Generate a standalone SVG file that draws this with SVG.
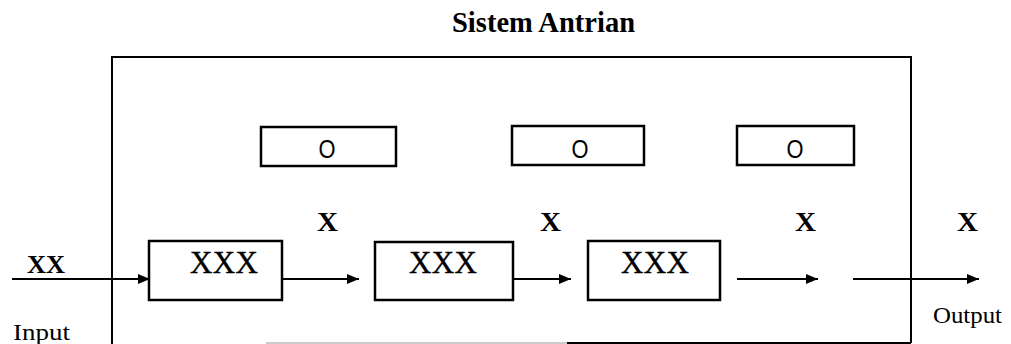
<svg xmlns="http://www.w3.org/2000/svg" width="1011" height="344" viewBox="0 0 1011 344">
  <defs>
    <marker id="arrow" markerUnits="userSpaceOnUse" markerWidth="14" markerHeight="12" refX="12" refY="6" orient="auto">
      <path d="M0,1 L12,6 L0,11 Z" fill="#000"/>
    </marker>
    <style>
      .frame { fill: none; stroke: #000; stroke-width: 2; }
      .box { fill: #fff; stroke: #000; stroke-width: 2.5; }
      .flow { stroke: #000; stroke-width: 2; fill: none; }
      .arrow { marker-end: url(#arrow); }
      .title { font-family: "Liberation Serif", "Times New Roman", serif; font-weight: bold; font-size: 30px; fill: #000; }
      .serif { font-family: "Liberation Serif", "Times New Roman", serif; fill: #000; }
      .item { font-family: "Liberation Serif", "Times New Roman", serif; font-size: 31px; fill: #000; stroke: #000; stroke-width: 0.4; }
      .item-bold { font-family: "Liberation Serif", "Times New Roman", serif; font-size: 28px; font-weight: bold; fill: #000; }
      .server { font-family: "Liberation Sans", Arial, sans-serif; font-size: 25px; fill: #000; text-anchor: middle; }
    </style>
  </defs>

  <rect width="1011" height="344" fill="#fff"/>

  <!-- title -->
  <text class="title" x="452" y="32" textLength="183" lengthAdjust="spacingAndGlyphs">Sistem Antrian</text>

  <!-- system boundary -->
  <g id="system">
    <path class="frame" d="M112,344 L112,57 L911,57 L911,343"/>
    <line x1="266" y1="343" x2="567" y2="343" stroke="#bbb" stroke-width="1.5"/>
    <line x1="567" y1="343" x2="911" y2="343" stroke="#000" stroke-width="2"/>
  </g>

  <!-- servers -->
  <g id="server1">
    <rect class="box" x="261" y="127" width="135" height="39"/>
    <text class="server" x="327" y="158" textLength="17" lengthAdjust="spacingAndGlyphs">O</text>
  </g>
  <g id="server2">
    <rect class="box" x="512" y="126" width="132" height="39"/>
    <text class="server" x="580" y="158" textLength="17" lengthAdjust="spacingAndGlyphs">O</text>
  </g>
  <g id="server3">
    <rect class="box" x="737" y="126" width="117" height="39"/>
    <text class="server" x="795" y="158" textLength="17" lengthAdjust="spacingAndGlyphs">O</text>
  </g>

  <!-- queues -->
  <g id="queue1">
    <rect class="box" x="149" y="241" width="133" height="59"/>
    <text class="item" x="190" y="273" textLength="68" lengthAdjust="spacing">XXX</text>
  </g>
  <g id="queue2">
    <rect class="box" x="375" y="242" width="138" height="58"/>
    <text class="item" x="409" y="273" textLength="68" lengthAdjust="spacing">XXX</text>
  </g>
  <g id="queue3">
    <rect class="box" x="588" y="241" width="132" height="59"/>
    <text class="item" x="621" y="273" textLength="68" lengthAdjust="spacing">XXX</text>
  </g>

  <!-- flow connectors -->
  <g id="connectors">
    <line class="flow arrow" x1="12" y1="279" x2="150" y2="279"/>
    <line class="flow arrow" x1="282" y1="279" x2="359" y2="279"/>
    <line class="flow arrow" x1="513" y1="279" x2="571" y2="279"/>
    <line class="flow arrow" x1="737" y1="279" x2="818" y2="279"/>
    <line class="flow arrow" x1="853" y1="279" x2="979" y2="279"/>
  </g>

  <!-- flow labels -->
  <g id="labels">
    <text class="serif" x="27" y="273" font-size="25" font-weight="bold" textLength="38" lengthAdjust="spacingAndGlyphs">XX</text>
    <text class="item-bold" x="317" y="231" textLength="21" lengthAdjust="spacingAndGlyphs">X</text>
    <text class="item-bold" x="540" y="231" textLength="21" lengthAdjust="spacingAndGlyphs">X</text>
    <text class="item-bold" x="795" y="231" textLength="21" lengthAdjust="spacingAndGlyphs">X</text>
    <text class="item-bold" x="957" y="231" textLength="21" lengthAdjust="spacingAndGlyphs">X</text>
    <text class="serif" x="13" y="340" font-size="24" textLength="57" lengthAdjust="spacingAndGlyphs">Input</text>
    <text class="serif" x="933" y="323" font-size="23" textLength="69" lengthAdjust="spacingAndGlyphs">Output</text>
  </g>
</svg>
